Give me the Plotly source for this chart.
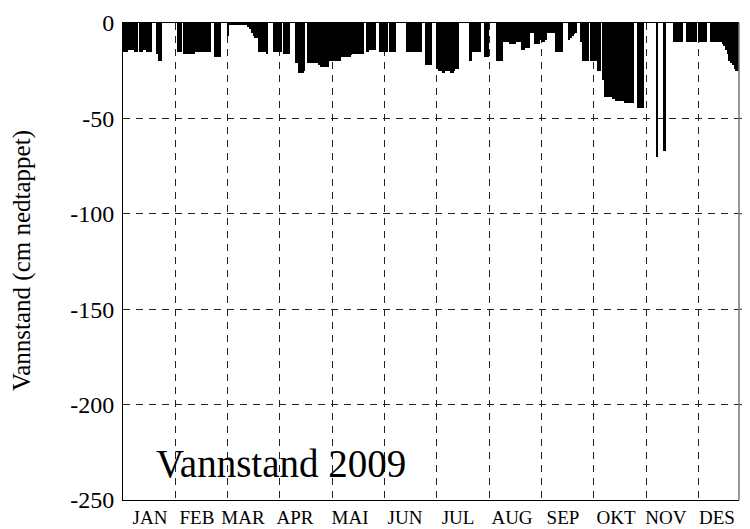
import plotly.graph_objects as go

# Daily water level (cm drawn down), 2009
jan = [-15, -15, -15, -14, -14, -14, -14, -15, -15, 0,
       -15, -15, -14, -14, -15, -15, -15, 0, 0, 0,
       -16, -20, -20, 0, 0, 0, 0, 0, 0, 0, 0]
feb = [0, -15, -15, -15, 0, -16, -16, -16, -16, -16,
       -16, -16, -15, -15, -15, -15, -15, -15, -15, -15,
       -15, 0, 0, -18, -18, -18, -18, 0]
mar = [0, 0, 0, -7, -1, -1, -1, -1, -1, -1,
       -1, -1, -1, -1, -1, -2, -3, -5, -7, -8,
       -8, -15, -15, -15, -15, -15, -16, 0, 0, 0, -15]
apr = [-15, -15, -15, -15, 0, -16, -16, -16, -16, 0,
       0, 0, -21, -21, -26, -26, -26, -25, 0, -21,
       -21, -21, -21, -21, -21, -21, -22, -23, -23, -23]
mai = [-23, -23, -20, -20, -20, -20, -20, -20, -20, -18,
       -18, -18, -18, -18, -18, -17, -16, -16, -16, -16,
       -16, -16, -16, 0, -15, -15, -14, -14, -14, -14, 0]
jun = [0, -15, -15, -15, -15, -15, 0, -15, -15, -15,
       -15, 0, 0, 0, 0, 0, 0, -15, -15, -15,
       -15, -15, -15, -15, -15, -15, 0, 0, -22, -22]
jul = [-22, -22, 0, 0, 0, -24, -25, -25, -26, -26,
       -25, -25, -25, -26, -26, -25, -24, -24, 0, 0,
       0, 0, 0, 0, -20, -20, -15, -15, -15, -15, -15]
aug = [0, 0, -18, -18, -18, 0, 0, 0, 0, -20,
       -20, -20, -20, -10, -10, -10, -10, -11, -11, -11,
       -11, -10, -10, -10, -14, -14, -13, -13, -13, -5, -5]
sep = [-5, -11, -11, -11, -9, -10, -10, -9, -5, -5,
       -5, -5, -5, -15, -15, -15, -15, -15, 0, 0,
       0, -9, -8, -7, -6, -5, 0, 0, -10, -20]
okt = [-20, -20, -20, 0, -20, -20, -20, -20, -25, -25,
       0, -30, -39, -39, -39, -39, -39, -40, -40, -41,
       -41, -41, -41, -41, -42, -42, -42, -42, -42, -42, 0]
nov = [0, -44.5, -44.5, -44.5, -44.5, 0, 0, 0, 0, 0,
       0, 0, -70, 0, 0, 0, -67, -67, 0, 0,
       0, 0, -10, -10, -10, -10, -10, -10, 0, 0]
des = [-10, -10, -10, -10, -10, -10, 0, -10, -10, -10,
       -10, -10, 0, 0, -10, -10, -10, -10, -10, -10,
       -10, -11, -12, -14, -16, -20, -21, -22, -24, -25, -25]

month_labels = ["JAN", "FEB", "MAR", "APR", "MAI", "JUN",
                "JUL", "AUG", "SEP", "OKT", "NOV", "DES"]
# where each month label sits on the day axis (as placed in the original)
month_label_day = [16.5, 44.3, 71.6, 102.4, 135, 167.6,
                   199, 231, 261.2, 292.6, 322.2, 352.4]
y_tick_vals = [0, -50, -100, -150, -200, -250]
y_tick_text = ["0", "-50", "-100", "-150", "-200", "-250"]
label_interval = 31  # category-axis grid interval (days)

values = jan + feb + mar + apr + mai + jun + jul + aug + sep + okt + nov + des
days = list(range(1, len(values) + 1))
n_days = len(days)

grid_x = [label_interval * k + 0.5 for k in range(1, len(month_labels))]

serif = "Liberation Serif, Times New Roman, serif"
dash = "7px,6px"

fig = go.Figure()
fig.add_trace(go.Bar(x=days, y=values, marker=dict(color="black", line=dict(width=0)),
                     width=0.9, showlegend=False, hoverinfo="skip"))

# horizontal grid dashes run slightly past the right frame, as in the original
shapes = [dict(type="line", xref="paper", yref="y", x0=1.0, x1=1.03, y0=v, y1=v,
               line=dict(color="#222", width=1, dash=dash), layer="above")
          for v in y_tick_vals[1:-1]]
shapes.append(dict(type="line", xref="paper", yref="paper", x0=1, x1=1, y0=0, y1=1,
                   line=dict(color="#777", width=1.5), layer="above"))

# the page body has an 8px default margin, so the figure is sized to fit the window
fig.update_layout(
    width=742, height=521,
    margin=dict(l=115, r=11, t=15, b=29),
    paper_bgcolor="white", plot_bgcolor="white",
    font=dict(family=serif, color="black"),
    bargap=0,
    xaxis=dict(
        range=[0.5, n_days + 0.5], automargin=False,
        tickmode="array", tickvals=month_label_day, ticktext=month_labels,
        ticks="", showgrid=False, zeroline=False,
        tickfont=dict(family=serif, size=19, color="black"),
        showline=True, linecolor="black", linewidth=1, mirror=True,
        minor=dict(tickmode="array", tickvals=grid_x, showgrid=True,
                   gridcolor="#222", gridwidth=1, griddash=dash, ticks=""),
    ),
    yaxis=dict(
        range=[-250, 0], automargin=False,
        tickmode="array", tickvals=y_tick_vals, ticktext=y_tick_text,
        ticks="", showgrid=True, gridcolor="#222", gridwidth=1, griddash=dash,
        zeroline=False, ticklabelstandoff=3,
        tickfont=dict(family=serif, size=24, color="black"),
        showline=True, linecolor="black", linewidth=1, mirror=False,
    ),
    shapes=shapes,
    annotations=[
        dict(text="Vannstand 2009", xref="paper", yref="paper",
             x=0.051, y=0.077, xanchor="left", yanchor="middle", showarrow=False,
             font=dict(family=serif, size=39, color="black")),
        dict(text="Vannstand (cm nedtappet)", xref="paper", yref="paper",
             x=-0.164, y=0.503, xanchor="center", yanchor="middle", textangle=-90,
             showarrow=False, font=dict(family=serif, size=25, color="black")),
    ],
)

fig.write_html("out.html")
